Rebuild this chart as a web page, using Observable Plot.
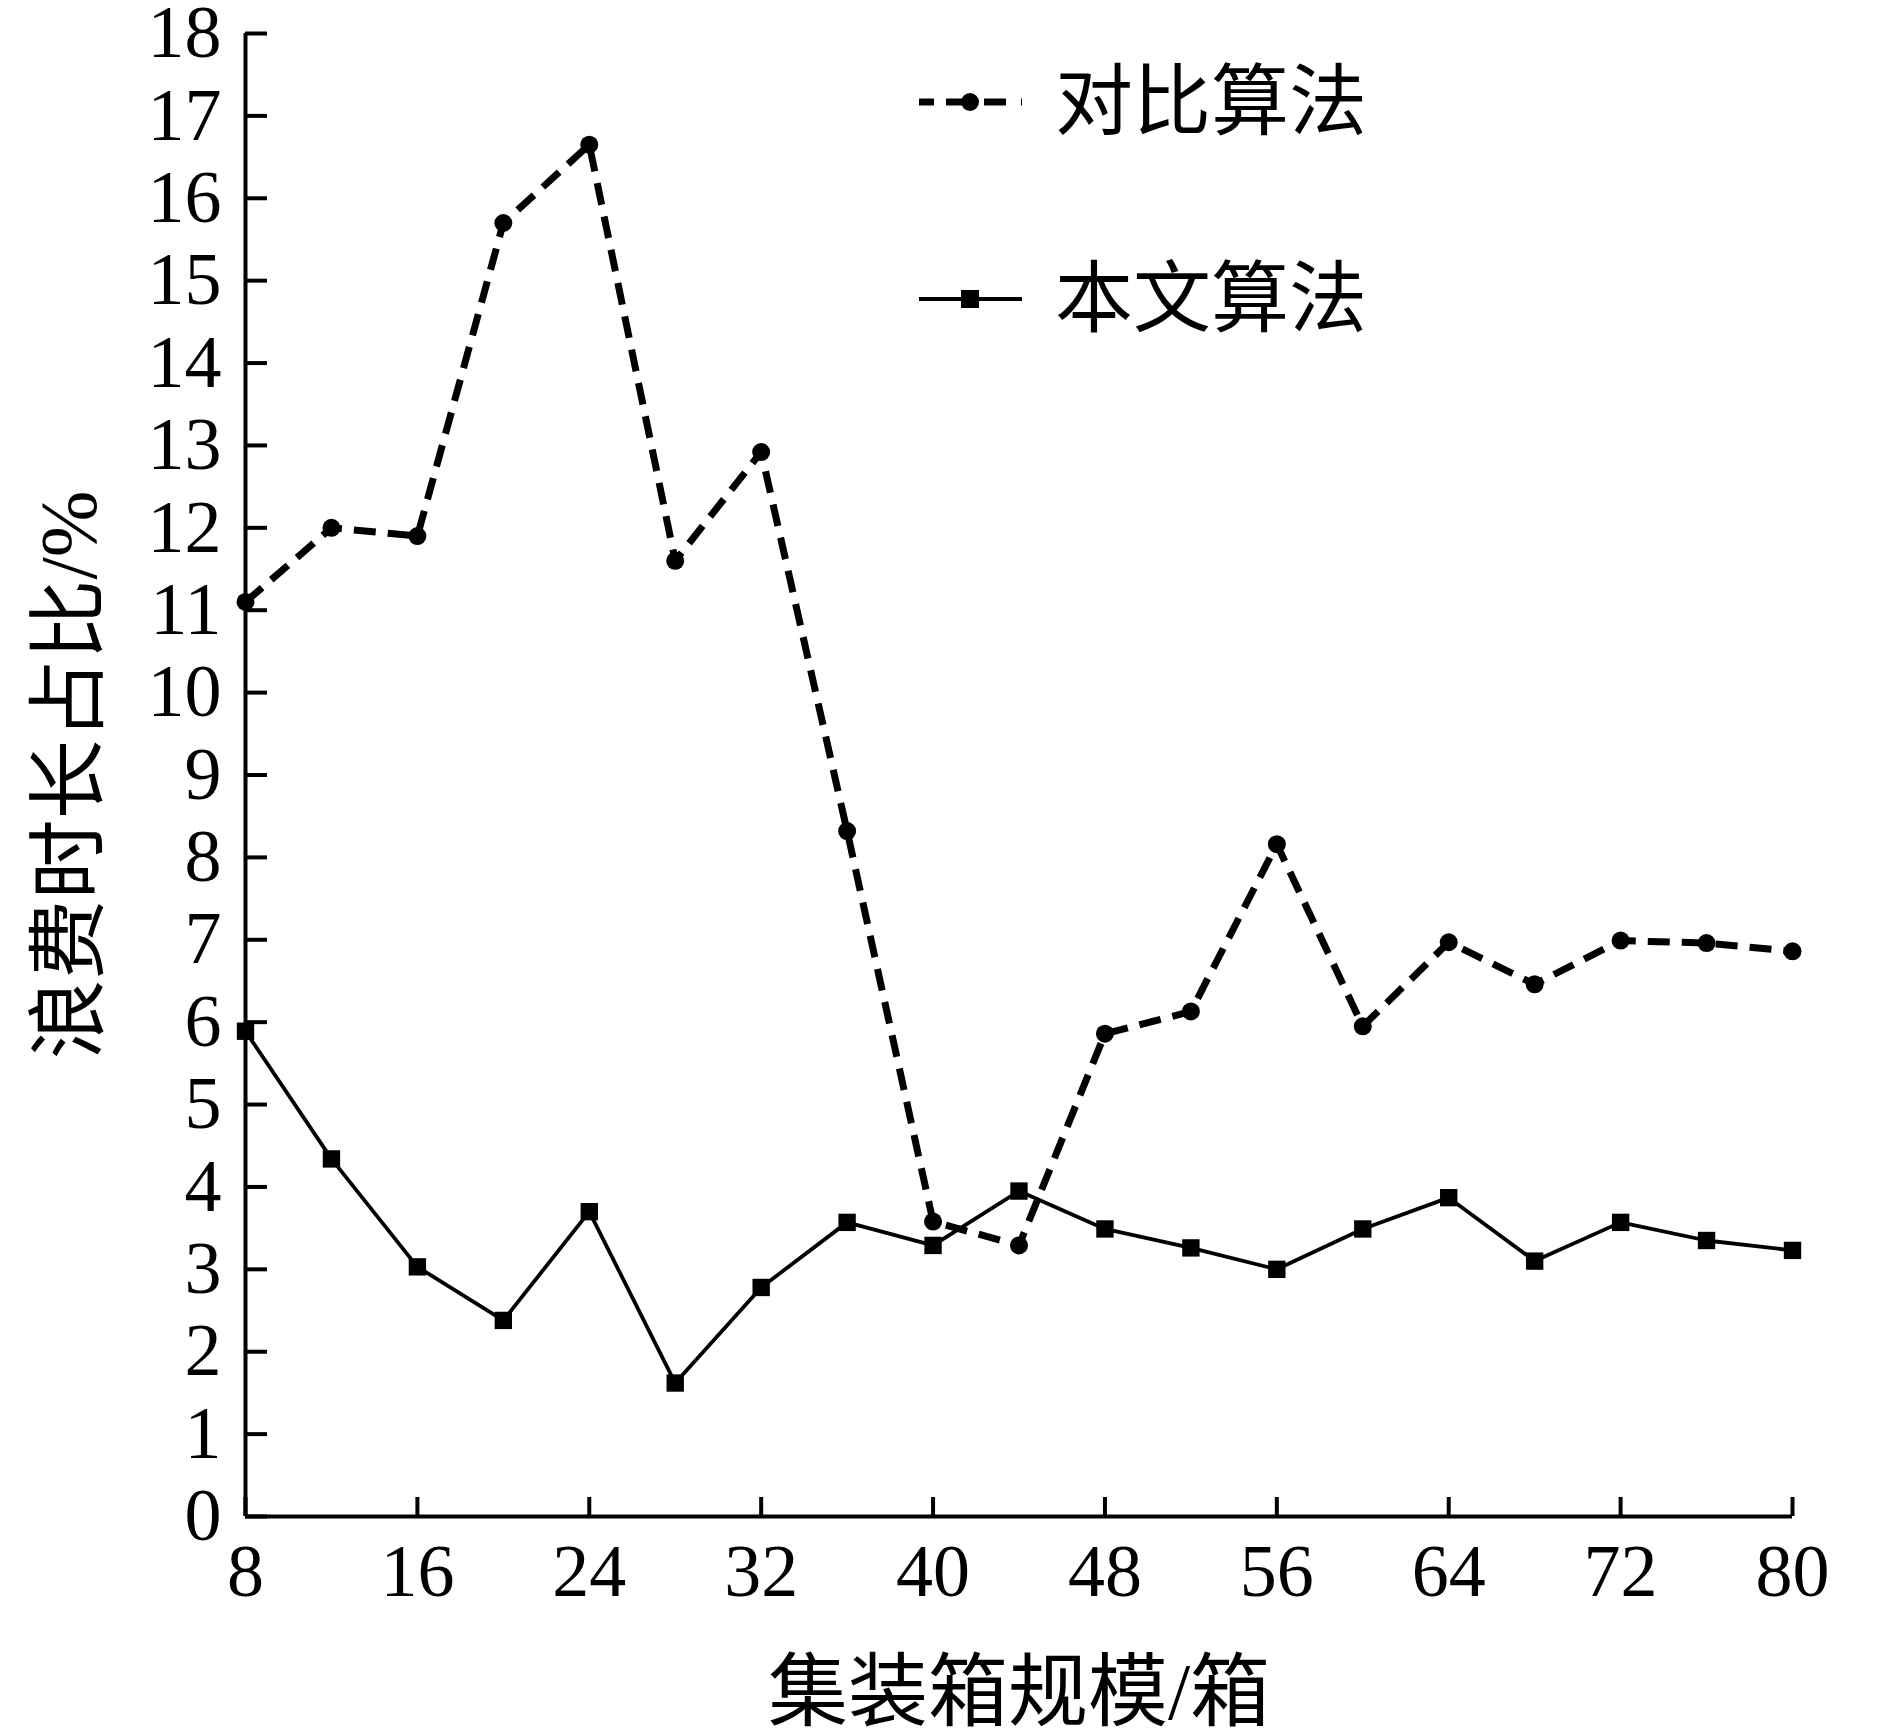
<!DOCTYPE html>
<html>
<head>
<meta charset="utf-8">
<script src="https://cdn.jsdelivr.net/npm/d3@7"></script>
<script src="https://cdn.jsdelivr.net/npm/@observablehq/plot@0.6"></script>
<style>
  html, body { margin: 0; padding: 0; background: #fff; }
  #wrap { position: relative; width: 1890px; height: 1732px; }
  #legend { position: absolute; left: 0; top: 0; }
</style>
</head>
<body>
<div id="wrap"></div>
<script>
// ---- data ----
const scale = [8, 12, 16, 20, 24, 28, 32, 36, 40, 44, 48, 52, 56, 60, 64, 68, 72, 76, 80];
const compareAlg = [11.1, 12.0, 11.9, 15.7, 16.65, 11.6, 12.92, 8.32, 3.58, 3.29, 5.86, 6.13, 8.16, 5.95, 6.97, 6.46, 6.99, 6.96, 6.86];
const ourAlg = [5.89, 4.34, 3.03, 2.38, 3.70, 1.62, 2.78, 3.57, 3.29, 3.95, 3.49, 3.26, 3.0, 3.49, 3.87, 3.10, 3.57, 3.35, 3.23];
const seriesNames = ["对比算法", "本文算法"];
const xTicks = [8, 16, 24, 32, 40, 48, 56, 64, 72, 80];
const yTicks = [0, 1, 2, 3, 4, 5, 6, 7, 8, 9, 10, 11, 12, 13, 14, 15, 16, 17, 18];
const xTitle = "集装箱规模/箱";
const yTitle = "浪费时长占比/%";

const dashed = scale.map((x, i) => ({x, y: compareAlg[i]}));
const solid = scale.map((x, i) => ({x, y: ourAlg[i]}));

const FONT = "'Liberation Serif', 'Noto Sans CJK SC', serif";
const DASH = "22,12";

const chart = Plot.plot({
  width: 1890,
  height: 1732,
  marginLeft: 245,
  marginRight: 98,
  marginTop: 33,
  marginBottom: 216,
  style: {fontFamily: FONT, fontSize: "74px", color: "#000", background: "#fff", overflow: "visible"},
  x: {domain: [8, 80]},
  y: {domain: [0, 18]},
  marks: [
    Plot.axisY({ticks: yTicks, tickSize: -22, tickPadding: 46, strokeWidth: 4, fontSize: 74,
      label: yTitle, labelAnchor: "center", labelArrow: "none", labelOffset: 206}),
    Plot.axisX({ticks: xTicks, tickSize: -19, tickPadding: 46, strokeWidth: 4, fontSize: 74,
      label: xTitle, labelAnchor: "center", labelArrow: "none", labelOffset: 202}),
    Plot.ruleX([8], {strokeWidth: 4}),
    Plot.ruleY([0], {strokeWidth: 4}),
    Plot.line(dashed, {x: "x", y: "y", stroke: "#000", strokeWidth: 7, strokeDasharray: DASH, strokeLinecap: "butt"}),
    Plot.dot(dashed, {x: "x", y: "y", r: 9, fill: "#000", stroke: "none"}),
    Plot.line(solid, {x: "x", y: "y", stroke: "#000", strokeWidth: 3.8}),
    Plot.dot(solid, {x: "x", y: "y", symbol: "square", r: 9.8, fill: "#000", stroke: "none"})
  ]
});

const wrap = document.getElementById("wrap");
wrap.appendChild(chart);
d3.select(chart).selectAll("[aria-label='x-axis label'] text, [aria-label='y-axis label'] text").attr("font-size", 80);

// ---- legend overlay ----
const legendStyles = [
  {dash: DASH, width: 7, symbol: "circle"},
  {dash: null, width: 3.8, symbol: "square"}
];
const leg = d3.select(wrap).append("svg")
  .attr("id", "legend").attr("width", 1890).attr("height", 400)
  .style("font-family", FONT);
seriesNames.forEach((name, i) => {
  const cy = 102 + i * 197;
  const st = legendStyles[i];
  leg.append("line").attr("x1", 919).attr("x2", 1022).attr("y1", cy).attr("y2", cy)
    .attr("stroke", "#000").attr("stroke-width", st.width)
    .attr("stroke-dasharray", st.dash ? "15,12,26,12,22" : null);
  if (st.symbol === "circle") {
    leg.append("circle").attr("cx", 970).attr("cy", cy).attr("r", 9).attr("fill", "#000");
  } else {
    leg.append("rect").attr("x", 961).attr("y", cy - 9).attr("width", 18).attr("height", 18).attr("fill", "#000");
  }
  leg.append("text").attr("x", 1055).attr("y", cy).attr("dy", "0.35em")
    .attr("font-size", 78).attr("fill", "#000").text(name);
});
</script>
</body>
</html>
